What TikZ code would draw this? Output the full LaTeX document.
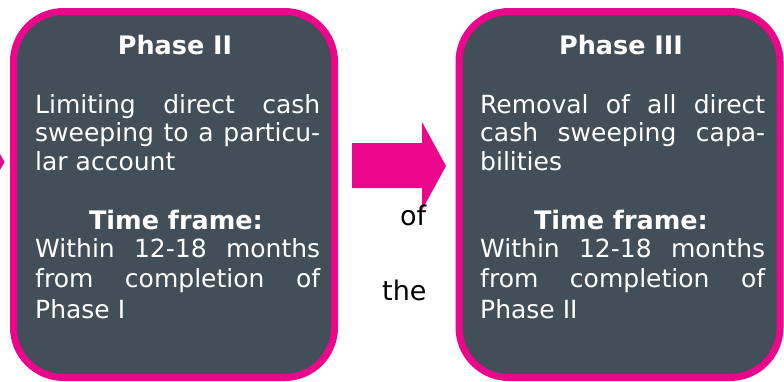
\documentclass[tikz,border=0pt]{standalone}
\usepackage{fontspec}
\setmainfont{DejaVu Sans}
\usepackage{tikz}
\usetikzlibrary{positioning}
\definecolor{slate}{HTML}{434F58}
\definecolor{magenta}{HTML}{EB068C}
\tikzset{
  phasebox/.style={draw=magenta, fill=slate, line width=7pt, rounded corners=50pt,
    minimum width=321pt, minimum height=366pt, inner sep=0pt},
  heading/.style={text=white, font=\bfseries\fontsize{25.5}{29}\selectfont, anchor=base, inner sep=0pt},
  bodytext/.style={text=white, text width=285pt, align=justify, anchor=north west, inner sep=0pt},
  stray/.style={text=black, font=\fontsize{27}{30}\selectfont, anchor=base west, inner sep=0pt}}

\begin{document}
\begin{tikzpicture}[x=1pt, y=-1pt]
  \useasboundingbox (0,0) rectangle (784,381);
  % left over tip of the previous arrow
  \fill[magenta] (0,154) -- (4.5,162) -- (0,170) -- cycle;
  \node[phasebox] (ph2) at (174,194.5) {};
  \node[phasebox] (ph3) at (619.5,194.5) {};
  \fill[magenta] (352,143) -- (422,143) -- (422,122) -- (446,166)
    -- (422,210) -- (422,188) -- (352,188) -- cycle;

  \node[heading] (ph2head) at (175,54) {Phase II};
  \node[bodytext, font=\fontsize{25}{28.5}\selectfont] (ph2text) at (35,93)
    {\strut Limiting direct cash\linebreak sweeping to a particu-\linebreak lar account};
  \node[heading] (ph2timehead) at (176,229) {Time frame:};
  \node[bodytext, font=\fontsize{25}{30.5}\selectfont] (ph2time) at (35,235.6)
    {\strut Within 12-18 months\linebreak from completion of\linebreak Phase I};

  \node[heading] (ph3head) at (621,54) {Phase III};
  \node[bodytext, font=\fontsize{25}{28.5}\selectfont] (ph3text) at (480,93)
    {\strut Removal of all direct\linebreak cash sweeping capa-\linebreak bilities};
  \node[heading] (ph3timehead) at (621,229) {Time frame:};
  \node[bodytext, font=\fontsize{25}{30.5}\selectfont] (ph3time) at (480,235.6)
    {\strut Within 12-18 months\linebreak from completion of\linebreak Phase II};

  \node[stray] (of) at (400,225) {of};
  \node[stray] (the) at (382,300) {the};
\end{tikzpicture}
\end{document}
